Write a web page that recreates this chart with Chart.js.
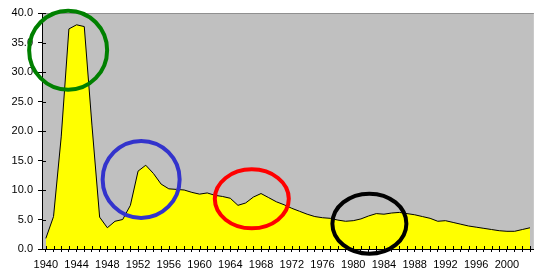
<!DOCTYPE html>
<html>
<head>
<meta charset="utf-8">
<script src="https://cdn.jsdelivr.net/npm/chart.js@4"></script>
<style>
  html, body { margin: 0; padding: 0; background: #fff; }
</style>
</head>
<body>
<canvas id="chart" width="536" height="269"></canvas>
<script>
// years on the category axis, one point each
const years = [];
for (let y = 1940; y <= 2003; y++) years.push(String(y));

// values
const values = [
    1.8, 5.5, 19.0, 37.3, 38.0, 37.7, 21.0, 5.4, 3.6, 4.7,
    5.0, 7.4, 13.2, 14.2, 12.8, 11.0, 10.2, 10.1, 10.0, 9.6,
    9.3, 9.5, 9.1, 8.9, 8.6, 7.4, 7.8, 8.8, 9.4, 8.7,
    8.0, 7.5, 6.9, 6.4, 5.9, 5.5, 5.3, 5.2, 4.9, 4.7,
    4.8, 5.1, 5.6, 6.0, 5.9, 6.1, 6.2, 6.0, 5.8, 5.5,
    5.2, 4.7, 4.8, 4.5, 4.2, 3.9, 3.7, 3.5, 3.3, 3.1,
    3.0, 3.0, 3.3, 3.6
];

const yMin = 0, yMax = 40, yStep = 5;
const labelEvery = 4;

// highlight rings, centred in data units (year, value)
const ringYears  = [1942.9, 1952.4, 1966.8, 1982.1];
const ringValues = [33.7, 11.8, 8.5, 4.3];
const ringColors = ['#008000', '#3333CC', '#FF0000', '#000000'];
const ringRx = [39, 38.5, 37, 37];
const ringRy = [39.5, 38.5, 29.5, 30];

// grey plot area + top border
const plotBackground = {
    id: 'plotBackground',
    beforeDraw(chart) {
        const { ctx, chartArea: a } = chart;
        ctx.save();
        ctx.fillStyle = '#C0C0C0';
        ctx.fillRect(a.left, a.top, a.right - a.left, a.bottom - a.top);
        ctx.strokeStyle = '#909090';
        ctx.lineWidth = 1;
        ctx.beginPath();
        ctx.moveTo(a.left, a.top + 0.5);
        ctx.lineTo(a.right, a.top + 0.5);
        ctx.stroke();
        ctx.restore();
    }
};

// excel style "cross" ticks: the inner half
const innerTicks = {
    id: 'innerTicks',
    afterDatasetsDraw(chart) {
        const { ctx, chartArea: a, scales } = chart;
        ctx.save();
        ctx.strokeStyle = '#000';
        ctx.lineWidth = 1;
        ctx.beginPath();
        scales.y.ticks.forEach((t, i) => {
            const py = Math.round(scales.y.getPixelForTick(i)) + 0.5;
            ctx.moveTo(a.left, py);
            ctx.lineTo(a.left + 4, py);
        });
        scales.x.ticks.forEach((t, i) => {
            const px = Math.round(scales.x.getPixelForTick(i)) + 0.5;
            ctx.moveTo(px, a.bottom);
            ctx.lineTo(px, a.bottom - 3);
        });
        ctx.stroke();
        ctx.restore();
    }
};

const rings = {
    id: 'rings',
    afterDraw(chart) {
        const { ctx, scales } = chart;
        ctx.save();
        ctx.lineWidth = 4;
        ringYears.forEach((yr, i) => {
            const cx = scales.x.getPixelForValue(yr - 1940);
            const cy = scales.y.getPixelForValue(ringValues[i]);
            ctx.strokeStyle = ringColors[i];
            ctx.beginPath();
            ctx.ellipse(cx, cy, ringRx[i], ringRy[i], 0, 0, Math.PI * 2);
            ctx.stroke();
        });
        ctx.restore();
    }
};

Chart.defaults.font.family = 'Arial, "Liberation Sans", sans-serif';
Chart.defaults.font.size = 11;
Chart.defaults.color = '#000';

new Chart(document.getElementById('chart'), {
    type: 'line',
    data: {
        labels: years,
        datasets: [{
            data: values,
            fill: 'origin',
            backgroundColor: '#FFFF00',
            borderColor: '#000',
            borderWidth: 1,
            pointRadius: 0,
            tension: 0
        }]
    },
    options: {
        responsive: false,
        devicePixelRatio: 1,
        animation: false,
        layout: { padding: { top: 13, right: 0, bottom: 0, left: 0 } },
        plugins: {
            legend: { display: false },
            tooltip: { enabled: false }
        },
        scales: {
            x: {
                offset: true,
                afterFit(scale) { scale.height = 20; },
                border: { display: true, color: '#000', width: 1 },
                grid: { drawOnChartArea: false, drawTicks: true, tickLength: 3, color: '#000', offset: false },
                ticks: {
                    autoSkip: false,
                    maxRotation: 0,
                    padding: 6,
                    font: { size: 11 },
                    callback: (v, i) => (i % labelEvery === 0 ? years[i] : '')
                }
            },
            y: {
                min: yMin,
                max: yMax,
                afterFit(scale) { scale.width = 42; },
                border: { display: true, color: '#000', width: 1 },
                grid: { drawOnChartArea: false, drawTicks: true, tickLength: 4, color: '#000' },
                ticks: {
                    stepSize: yStep,
                    padding: 5,
                    font: { size: 11 },
                    callback: v => v.toFixed(1)
                }
            }
        }
    },
    plugins: [plotBackground, innerTicks, rings]
});
</script>
</body>
</html>
